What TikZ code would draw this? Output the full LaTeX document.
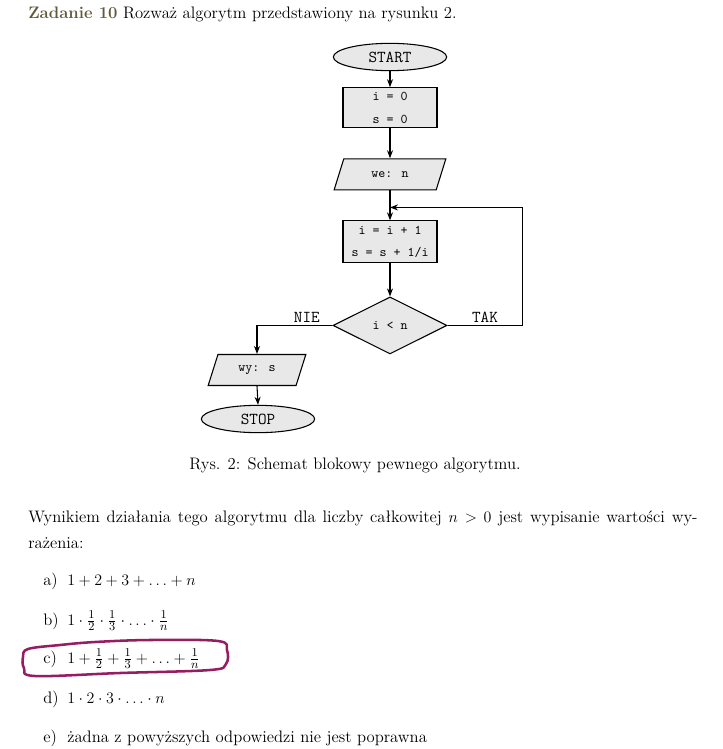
\documentclass[tikz,border=0pt]{standalone}
\usepackage{amsmath, amssymb}
\usetikzlibrary{positioning}
\usetikzlibrary{calc}
\usetikzlibrary{shapes.geometric}
\usetikzlibrary{arrows.meta}
\definecolor{zadcolor}{RGB}{96,90,58}
\definecolor{markcolor}{RGB}{150,28,100}

\begin{document}
\begin{tikzpicture}[x=0.75pt, y=-0.75pt,
                grayovalnode/.style={ellipse, draw=black, fill=black!9, thick, inner sep=0pt, minimum width=85pt, minimum height=20.5pt, font=\ttfamily\fontsize{12.5}{14}\selectfont},
                graysquarednode/.style={rectangle, draw=black, fill=black!9, thick, align=center, minimum width=70.5pt, font=\ttfamily\fontsize{10}{17}\selectfont},
                grayslantednode/.style={trapezium, trapezium left angle=72, trapezium right angle=108, trapezium stretches=true, draw=black, fill=black!9, thick, minimum height=23.25pt, font=\ttfamily\fontsize{10}{11}\selectfont},
                graydiamondnode/.style={diamond, aspect=2, draw=black, fill=black!9, thick, inner sep=0pt, minimum width=85.5pt, minimum height=42.75pt, font=\ttfamily\fontsize{10}{11}\selectfont},
                flowarrow/.style={-{Stealth[length=6pt, width=4.5pt]}, thick},
                branchlabel/.style={font=\ttfamily\fontsize{12.5}{14}\selectfont, inner sep=2pt},
                bodytext/.style={anchor=base west, inner sep=0pt, font=\fontsize{12.5}{15}\selectfont},
                ]
                \useasboundingbox (0,0) rectangle (723,749);

                % tresc zadania
                \node[bodytext] (title) at (28,19)
                    {\textcolor{zadcolor}{\textbf{Zadanie 10}} Rozważ algorytm przedstawiony na rysunku 2.};

                % schemat blokowy
                \node[grayovalnode] (start) at (390,57) {START};
                \node[graysquarednode, minimum height=30pt, below=12pt of start] (init) {i = 0\\s = 0};
                \node[grayslantednode, minimum width=84pt, below=22.5pt of init] (read) {we: n};
                \node[graysquarednode, minimum height=31.5pt, below=22.5pt of read] (step) {i = i + 1\\s = s + 1/i};
                \node[graydiamondnode, below=24.75pt of step] (cond) {i < n};
                \node[grayslantednode, minimum width=73.5pt] (write) at (257,370) {wy: s};
                \node[grayovalnode] (stop) at (258,419) {STOP};

                \coordinate (join) at ($(read.south)!0.57!(step.north)$);
                \coordinate (loop) at ($(cond.east)+(75,0)$);

                \draw[flowarrow] (start.south) -- (init.north);
                \draw[flowarrow] (init.south) -- (read.north);
                \draw[flowarrow] (read.south) -- (step.north);
                \draw[flowarrow] (step.south) -- (cond.north);
                \draw[flowarrow] (cond.west) -| node[branchlabel, above, pos=0.17] {NIE} (write.north);
                \draw[flowarrow] (cond.east) -- node[branchlabel, above] {TAK} (loop) |- (join);
                \draw[flowarrow] (write.south) -- (stop.north);

                \node[bodytext, anchor=base] (caption) at (355,469)
                    {Rys. 2: Schemat blokowy pewnego algorytmu.};

                \node[bodytext] (question) at (28,522)
                    {\makebox[502pt][s]{Wynikiem działania tego algorytmu dla liczby całkowitej $n>0$ jest wypisanie wartości wy-}};
                \node[bodytext] (questionend) at (28,548) {rażenia:};

                % odpowiedzi
                \foreach \lbl/\ans/\ypos in {a/{$1+2+3+\ldots+n$}/585,
                                             b/{$1\cdot\frac{1}{2}\cdot\frac{1}{3}\cdot\ldots\cdot\frac{1}{n}$}/625,
                                             c/{$1+\frac{1}{2}+\frac{1}{3}+\ldots+\frac{1}{n}$}/663,
                                             d/{$1\cdot2\cdot3\cdot\ldots\cdot n$}/703,
                                             e/{żadna z powyższych odpowiedzi nie jest poprawna}/742} {
                    \node[bodytext] (lbl\lbl) at (43,\ypos) {\lbl)};
                    \node[bodytext] (ans\lbl) at (67,\ypos) {\ans};
                }

                % zaznaczona odpowiedz
                \draw[markcolor, line width=1.9pt, line join=round]
                    plot[smooth cycle, tension=0.6] coordinates {(28,649) (60,645) (95,642) (150,640) (218,641) (227,650) (226,664) (210,670) (120,673) (35,676) (24,668) (23,657)};
            \end{tikzpicture}
\end{document}
